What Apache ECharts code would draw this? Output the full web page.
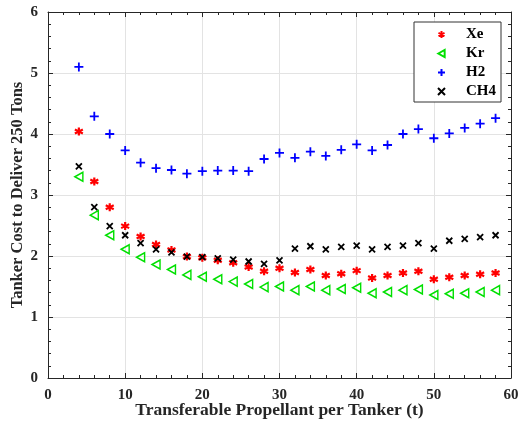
<!DOCTYPE html>
<html>
<head>
<meta charset="utf-8">
<script src="https://cdn.jsdelivr.net/npm/echarts@6/dist/echarts.min.js"></script>
<style>
  html, body { margin: 0; padding: 0; background: #fff; }
  #chart { width: 521px; height: 429px; }
</style>
</head>
<body>
<div id="chart"></div>
<script>
// transferable propellant (t)
var xs = [4, 6, 8, 10, 12, 14, 16, 18, 20, 22, 24, 26, 28, 30, 32, 34, 36, 38, 40, 42, 44, 46, 48, 50, 52, 54, 56, 58];

var xeVals = [4.04, 3.22, 2.80, 2.49, 2.32, 2.19, 2.10, 1.99, 1.97, 1.93, 1.89, 1.82, 1.75, 1.80,
  1.73, 1.78, 1.68, 1.71, 1.76, 1.64, 1.68, 1.72, 1.75, 1.62, 1.65, 1.68, 1.70, 1.72];
var krVals = [3.30, 2.67, 2.34, 2.11, 1.98, 1.86, 1.78, 1.69, 1.66, 1.62, 1.58, 1.54, 1.49, 1.50,
  1.44, 1.50, 1.44, 1.46, 1.48, 1.39, 1.41, 1.44, 1.45, 1.36, 1.38, 1.39, 1.41, 1.44];
var h2Vals = [5.10, 4.29, 4.00, 3.73, 3.53, 3.44, 3.41, 3.35, 3.39, 3.40, 3.40, 3.39, 3.59, 3.69,
  3.61, 3.71, 3.64, 3.74, 3.83, 3.73, 3.82, 4.00, 4.08, 3.93, 4.01, 4.10, 4.17, 4.26];
var ch4Vals = [3.47, 2.80, 2.49, 2.34, 2.21, 2.11, 2.06, 1.99, 1.98, 1.96, 1.94, 1.91, 1.87, 1.93,
  2.12, 2.16, 2.11, 2.15, 2.17, 2.11, 2.15, 2.17, 2.21, 2.12, 2.25, 2.28, 2.31, 2.34];

var seriesNames = ['Xe', 'Kr', 'H2', 'CH4'];

var chart = echarts.init(document.getElementById('chart'), null, { renderer: 'canvas' });

var fontFam = '"Liberation Serif", "Times New Roman", serif';
var axisCol = '#262626';

// 把 x 和 y 拼成点
function pairs(vals) {
  return xs.map(function (x, i) { return [x, vals[i]]; });
}

var starPath = 'path://M5,0L5,10M0.7,2.5L9.3,7.5M0.7,7.5L9.3,2.5';
var triPath = 'path://M0,5L9,0L9,10Z';
var plusPath = 'path://M5,0L5,10M0,5L10,5';
var crossPath = 'path://M0,0L10,10M0,10L10,0';

function mkSeries(name, vals, sym, size, col, bw) {
  return {
    name: name,
    type: 'scatter',
    data: pairs(vals),
    symbol: sym,
    symbolSize: size,
    itemStyle: {
      color: 'transparent',
      borderColor: col,
      borderWidth: bw,
      opacity: 1
    },
    emphasis: { disabled: true },
    animation: false
  };
}

var commonX = {
  type: 'value', min: 0, max: 60, interval: 10,
  axisLine: { show: true, onZero: false, lineStyle: { color: axisCol, width: 1 } },
  axisTick: { show: true, inside: true, length: 5, lineStyle: { color: axisCol } },
  minorTick: { show: true, splitNumber: 5, length: 3, lineStyle: { color: axisCol } }
};
var commonY = {
  type: 'value', min: 0, max: 6, interval: 1,
  axisLine: { show: true, onZero: false, lineStyle: { color: axisCol, width: 1 } },
  axisTick: { show: true, inside: true, length: 5, lineStyle: { color: axisCol } },
  minorTick: { show: true, splitNumber: 5, length: 3, lineStyle: { color: axisCol } }
};

chart.setOption({
  backgroundColor: '#fff',
  animation: false,
  grid: { left: 48, right: 10, top: 12, bottom: 51, containLabel: false, outerBoundsMode: 'none' },
  legend: {
    orient: 'vertical',
    left: 414, top: 22,
    padding: [5, 5, 3, 23],
    itemGap: 4,
    itemWidth: 7,
    itemHeight: 7,
    backgroundColor: '#fff',
    borderColor: '#333',
    borderWidth: 1,
    borderRadius: 0,
    selectedMode: false,
    textStyle: { fontFamily: fontFam, fontWeight: 'bold', fontSize: 15, color: '#000', padding: [0, 0, 0, 16] },
    data: seriesNames
  },
  xAxis: [
    Object.assign({}, commonX, {
      position: 'bottom',
      name: 'Transferable Propellant per Tanker (t)',
      nameLocation: 'middle', nameGap: 23, nameMoveOverlap: false,
      nameTextStyle: { fontFamily: fontFam, fontWeight: 'bold', fontSize: 17.5, color: '#262626' },
      axisLabel: { fontFamily: fontFam, fontWeight: 'bold', fontSize: 15, color: '#262626', margin: 10 },
      splitLine: { show: true, lineStyle: { color: '#e3e3e3', width: 1 } }
    }),
    Object.assign({}, commonX, {
      position: 'top',
      axisLabel: { show: false },
      splitLine: { show: false }
    })
  ],
  yAxis: [
    Object.assign({}, commonY, {
      position: 'left',
      name: 'Tanker Cost to Deliver 250 Tons',
      nameLocation: 'middle', nameGap: 22, nameMoveOverlap: false,
      nameTextStyle: { fontFamily: fontFam, fontWeight: 'bold', fontSize: 16.5, color: '#262626' },
      axisLabel: { fontFamily: fontFam, fontWeight: 'bold', fontSize: 15, color: '#262626', margin: 10 },
      splitLine: { show: true, lineStyle: { color: '#e3e3e3', width: 1 } }
    }),
    Object.assign({}, commonY, {
      position: 'right',
      axisLabel: { show: false },
      splitLine: { show: false }
    })
  ],
  series: [
    mkSeries('Xe', xeVals, starPath, 8, '#ff0000', 2.2),
    mkSeries('Kr', krVals, triPath, [8, 9], '#00e000', 1.5),
    mkSeries('H2', h2Vals, plusPath, 9, '#0000ff', 1.8),
    mkSeries('CH4', ch4Vals, crossPath, 6, '#000000', 1.8)
  ]
});
</script>
</body>
</html>
